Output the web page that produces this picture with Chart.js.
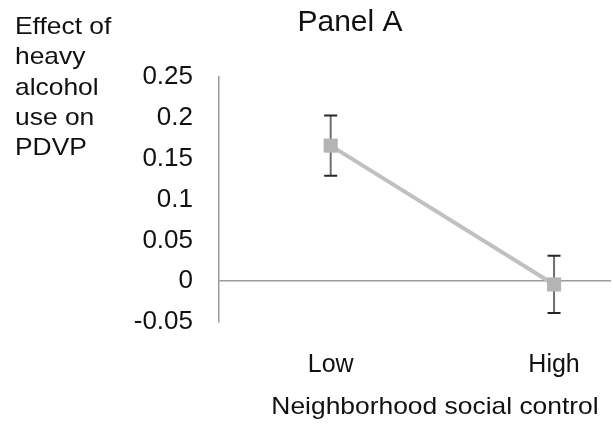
<!DOCTYPE html>
<html>
<head>
<meta charset="utf-8">
<script src="https://cdn.jsdelivr.net/npm/chart.js@4/dist/chart.umd.min.js"></script>
<style>
  html, body { margin: 0; padding: 0; background: #fff; }
  canvas { display: block; }
</style>
</head>
<body>
<canvas id="chart" width="613" height="436"></canvas>
<script>
// Effect estimates with their confidence bounds, by level of neighborhood social control
const categories = ['Low', 'High'];
const effect = [0.166, -0.004];
const upper = [0.203, 0.031];
const lower = [0.129, -0.039];

// Value axis ticks and their printed labels
const yTicks = [-0.05, 0, 0.05, 0.1, 0.15, 0.2, 0.25];
const yTickLabels = ['-0.05', '0', '0.05', '0.1', '0.15', '0.2', '0.25'];

const panelTitle = 'Panel A';
const yTitleLines = ['Effect of', 'heavy', 'alcohol', 'use on', 'PDVP'];
const xTitle = 'Neighborhood social control';

const FONT = "'Liberation Sans', Arial, Helvetica, sans-serif";

// Vertical error bars with end caps, drawn beneath the markers
const errorBars = {
  id: 'errorBars',
  beforeDatasetsDraw(chart) {
    const { ctx, scales: { x, y } } = chart;
    ctx.save();
    effect.forEach((v, i) => {
      const px = x.getPixelForValue(i + 1);
      const top = y.getPixelForValue(upper[i]);
      const bot = y.getPixelForValue(lower[i]);
      ctx.strokeStyle = '#6e6e6e';
      ctx.lineWidth = 2;
      ctx.beginPath();
      ctx.moveTo(px, top);
      ctx.lineTo(px, bot);
      ctx.stroke();
      ctx.strokeStyle = '#262626';
      ctx.beginPath();
      ctx.moveTo(px - 6.5, top);
      ctx.lineTo(px + 6.5, top);
      ctx.moveTo(px - 6.5, bot);
      ctx.lineTo(px + 6.5, bot);
      ctx.stroke();
    });
    ctx.restore();
  }
};

// Panel heading, stacked value-axis caption and category-axis caption
const captions = {
  id: 'captions',
  afterDraw(chart) {
    const ctx = chart.ctx;
    ctx.save();
    ctx.fillStyle = '#111';
    ctx.textBaseline = 'alphabetic';

    ctx.font = '30px ' + FONT;
    ctx.textAlign = 'center';
    ctx.fillText(panelTitle, 350, 31);

    ctx.font = '24px ' + FONT;
    ctx.textAlign = 'left';
    yTitleLines.forEach((line, i) => {
      ctx.save();
      ctx.translate(15, 34 + i * 30.3);
      ctx.scale(1.1, 1);
      ctx.fillText(line, 0, 0);
      ctx.restore();
    });

    ctx.save();
    ctx.translate(435, 414);
    ctx.scale(1.1, 1);
    ctx.textAlign = 'center';
    ctx.fillText(xTitle, 0, 0);
    ctx.restore();

    ctx.restore();
  }
};

new Chart(document.getElementById('chart'), {
  type: 'line',
  data: {
    datasets: [{
      data: effect.map((v, i) => ({ x: i + 1, y: v })),
      borderColor: '#c0c0c0',
      borderWidth: 4,
      pointStyle: 'rect',
      pointRadius: 10,
      pointHoverRadius: 10,
      pointBackgroundColor: '#b4b4b4',
      pointBorderWidth: 0,
      tension: 0,
      fill: false
    }]
  },
  options: {
    responsive: false,
    animation: false,
    devicePixelRatio: 1,
    layout: { autoPadding: false, padding: { top: 77, right: 2, left: 0, bottom: 0 } },
    plugins: {
      legend: { display: false },
      tooltip: { enabled: false },
      title: { display: false }
    },
    scales: {
      x: {
        type: 'linear',
        min: 0.5,
        max: 2.255,
        afterBuildTicks: s => { s.ticks = categories.map((c, i) => ({ value: i + 1 })); },
        afterFit: s => { s.height = 114; },
        border: { display: false },
        grid: { display: false, drawTicks: false },
        ticks: {
          padding: 28,
          color: '#111',
          font: { size: 25, family: FONT },
          maxRotation: 0,
          autoSkip: false,
          callback: v => categories[v - 1]
        }
      },
      y: {
        min: -0.05,
        max: 0.25,
        afterBuildTicks: s => { s.ticks = yTicks.map(v => ({ value: v })); },
        afterFit: s => { s.width = 219; },
        border: { display: true, color: '#9a9a9a', width: 1.5 },
        grid: {
          drawTicks: false,
          lineWidth: 1.5,
          color: c => (c.tick && c.tick.value === 0 ? '#9a9a9a' : 'rgba(0,0,0,0)')
        },
        ticks: {
          padding: 26,
          color: '#111',
          font: { size: 26, family: FONT },
          callback: v => yTickLabels[yTicks.indexOf(v)]
        }
      }
    }
  },
  plugins: [errorBars, captions]
});
</script>
</body>
</html>
